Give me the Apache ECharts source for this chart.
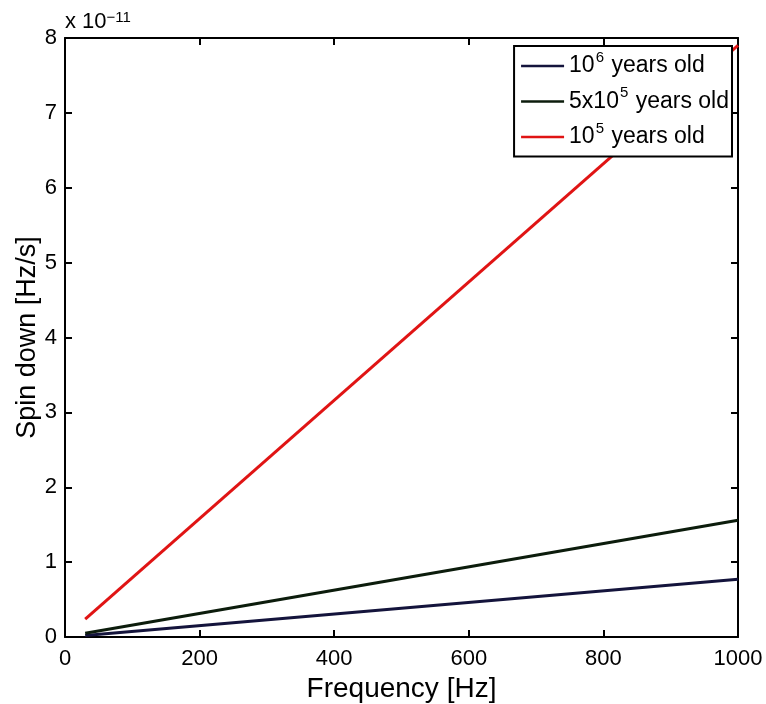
<!DOCTYPE html>
<html><head><meta charset="utf-8">
<script src="https://cdn.jsdelivr.net/npm/echarts@6/dist/echarts.min.js"></script>
<style>html,body{margin:0;padding:0;background:#fff}#c{width:766px;height:704px}</style>
</head><body><div id="c"></div>
<script>
const freq = [30, 1000];
const age1e6 = [0.02, 0.77];
const age5e5 = [0.05, 1.56];
const age1e5 = [0.24, 7.9];
const xTicks = [0, 200, 400, 600, 800, 1000];
const yTicks = [0, 1, 2, 3, 4, 5, 6, 7, 8];
const seriesNames = ['10^6 years old', '5x10^5 years old', '10^5 years old'];

const font = '"Liberation Sans", Arial, sans-serif';
const chart = echarts.init(document.getElementById('c'));
const pairs = a => freq.map((f, i) => [f, a[i]]);
const legendRich = {
  t: {fontSize: 23, fontFamily: font, color: '#000', lineHeight: 32},
  s: {fontSize: 15, fontFamily: font, color: '#000', lineHeight: 20, verticalAlign: 'top', padding: [0, 1, 0, 1]}
};
function fmtName(n) {
  const m = n.match(/^(.*?)10\^(\d+)(.*)$/);
  return '{t|' + m[1] + '10}{s|' + m[2] + '}{t|' + m[3] + '}';
}
const commonAxis = {
  axisLine: {show: true, onZero: false, lineStyle: {color: '#000', width: 2}},
  axisTick: {show: true, inside: true, length: 7, lineStyle: {color: '#000', width: 2}},
  splitLine: {show: false}
};
chart.setOption({
  animation: false,
  backgroundColor: '#fff',
  grid: {left: 65, right: 28, top: 38, bottom: 67, containLabel: false, outerBoundsMode: 'none'},
  xAxis: [
    Object.assign({}, commonAxis, {type: 'value', min: 0, max: 1000, interval: 200, position: 'bottom',
      name: 'Frequency [Hz]', nameLocation: 'middle', nameGap: 34,
      nameTextStyle: {fontSize: 28, fontFamily: font, color: '#000'},
      axisLabel: {fontSize: 22, fontFamily: font, color: '#000', margin: 11, formatter: v => xTicks.includes(v) ? String(v) : ''}}),
    Object.assign({}, commonAxis, {type: 'value', min: 0, max: 1000, interval: 200, position: 'top',
      axisLabel: {show: false}})
  ],
  yAxis: [
    Object.assign({}, commonAxis, {type: 'value', min: 0, max: 8, interval: 1, position: 'left',
      name: 'Spin down [Hz/s]', nameLocation: 'middle', nameGap: 24, nameMoveOverlap: false,
      nameTextStyle: {fontSize: 27, fontFamily: font, color: '#000'},
      axisLabel: {fontSize: 22, fontFamily: font, color: '#000', margin: 8, formatter: v => yTicks.includes(v) ? String(v) : ''}}),
    Object.assign({}, commonAxis, {type: 'value', min: 0, max: 8, interval: 1, position: 'right',
      axisLabel: {show: false}})
  ],
  legend: {
    right: 34, top: 46, orient: 'vertical',
    backgroundColor: '#fff', borderColor: '#000', borderWidth: 2,
    padding: [4, 3, 8, 7], itemGap: 8,
    itemWidth: 43, itemHeight: 14,
    icon: 'path://M0,6 L43,6 L43,8.5 L0,8.5 Z',
    formatter: fmtName,
    textStyle: {rich: legendRich},
    data: seriesNames
  },
  graphic: [{
    type: 'text', left: 65, top: 10,
    style: {rich: {a: {fontSize: 22, fontFamily: font, fill: '#000', padding: [9, 0, 0, 0]}, b: {fontSize: 15, fontFamily: font, fill: '#000'}},
      text: '{a|x 10}{b|−11}'}
  }],
  series: [
    {name: seriesNames[0], type: 'line', data: pairs(age1e6), showSymbol: false, lineStyle: {color: '#14143c', width: 3}, itemStyle: {color: '#14143c'}},
    {name: seriesNames[1], type: 'line', data: pairs(age5e5), showSymbol: false, lineStyle: {color: '#0c1c0c', width: 3}, itemStyle: {color: '#0c1c0c'}},
    {name: seriesNames[2], type: 'line', data: pairs(age1e5), showSymbol: false, lineStyle: {color: '#e01414', width: 3}, itemStyle: {color: '#e01414'}}
  ]
});
</script></body></html>
